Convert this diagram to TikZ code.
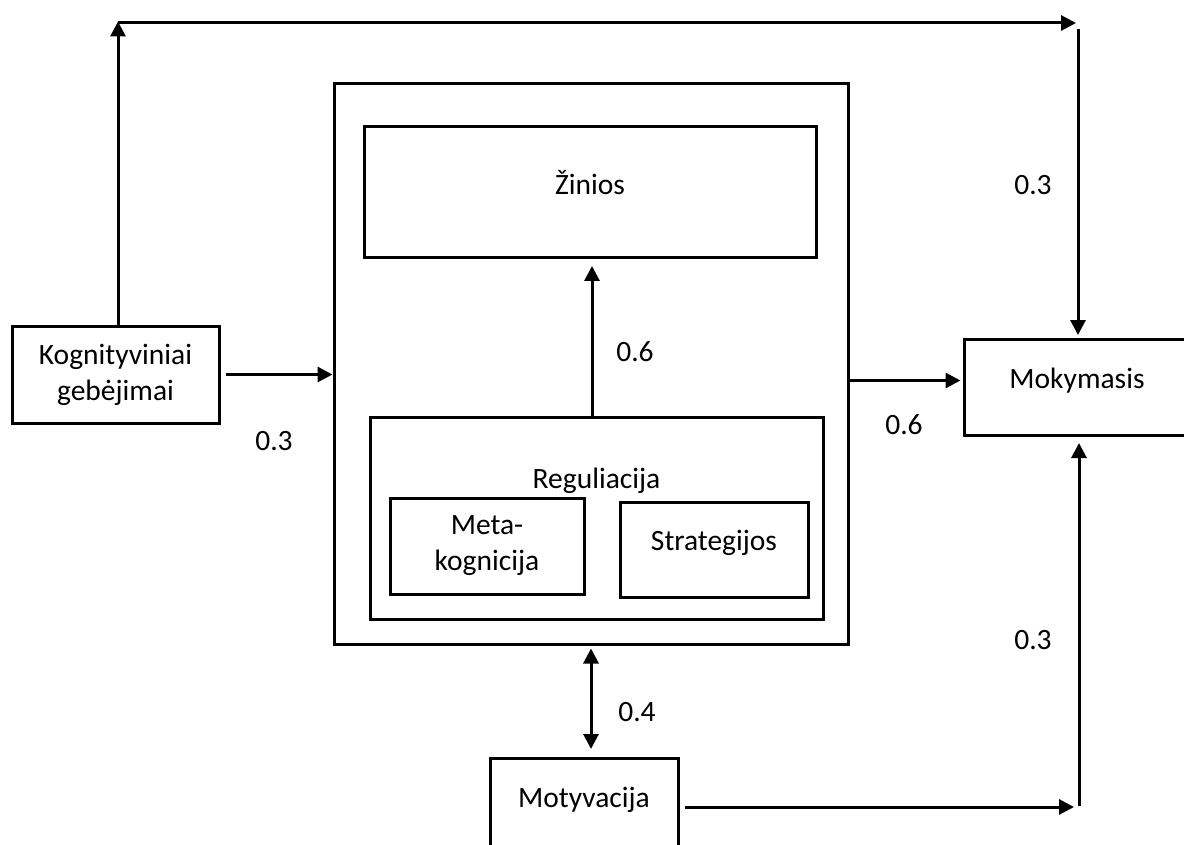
\documentclass[tikz,border=0pt]{standalone}
\usepackage{fontspec}
\setmainfont{Carlito}
\usetikzlibrary{arrows.meta, positioning, calc}

\begin{document}
\begin{tikzpicture}[
	x=1pt, y=-1pt,
	font=\fontsize{29.5}{36}\selectfont,
	box/.style = {draw, line width=3pt, inner sep=0pt, align=center},
	arrow/.style = {line width=3pt, -{Triangle[length=15pt, width=15pt]}},
	both/.style = {line width=3pt, {Triangle[length=15pt, width=15pt]}-{Triangle[length=15pt, width=15pt]}},
	weight/.style = {inner sep=0pt}
]
\useasboundingbox (0,0) rectangle (1184,845);

% boxes
\node[box, minimum width=207, minimum height=97] (kog) at (115.5,374.5) {Kognityviniai\\gebėjimai};
\node[box, minimum width=514, minimum height=560] (outer) at (591,364) {};
\node[box, anchor=north, minimum width=452, text height=68pt, text depth=63pt] (zin) at (590,125) {Žinios};
\node[box, anchor=north, minimum width=453, text height=71pt, text depth=131pt] (reg) at (596.5,416) {Reguliacija};
\node[box, minimum width=194, minimum height=96] (meta) at (487,546) {Meta-\\kognicija};
\node[box, anchor=north, minimum width=188, text height=48pt, text depth=47pt] (strat) at (714,501) {Strategijos};
\node[box, anchor=north, minimum width=226, text height=49pt, text depth=47pt] (mok) at (1077,338) {Mokymasis};
\node[box, anchor=north, minimum width=188, text height=49pt, text depth=60pt] (mot) at (584,757) {Motyvacija};

% corners
\coordinate (tl) at (118,23);
\coordinate (tr) at (1078,23);
\coordinate (br) at (1079,807);

% connectors
\draw[arrow] (kog.north -| tl) -- ([yshift=1.5pt]tl);
\draw[arrow] (tl) -- ([xshift=-2pt]tr);
\draw[arrow, shorten >=3pt] ([yshift=-6pt]tr) -- (mok.north -| tr);
\draw[arrow, shorten <=5pt] (kog.east) -- (kog.east -| outer.west);
\draw[arrow, shorten >=7pt] ([xshift=-4.5pt]reg.north) -- ([xshift=-4.5pt]reg.north |- zin.south);
\draw[arrow, shorten >=2pt] ([yshift=7pt]mok.west -| outer.east) -- ([yshift=7pt]mok.west);
\draw[both, shorten <=3pt, shorten >=8pt] (outer.south) -- (outer.south |- mot.north);
\draw[arrow, shorten <=5pt] (mot.east |- br) -- ([xshift=-5pt]br);
\draw[arrow, shorten >=6pt] ([yshift=1pt]br) -- (mok.south -| br);

% weights
\node[weight] (w1) at (274,441) {0.3};
\node[weight] (w2) at (635,352) {0.6};
\node[weight] (w3) at (904,425) {0.6};
\node[weight] (w4) at (1033,185) {0.3};
\node[weight] (w5) at (1033,640) {0.3};
\node[weight] (w6) at (637,712) {0.4};

\end{tikzpicture}
\end{document}
